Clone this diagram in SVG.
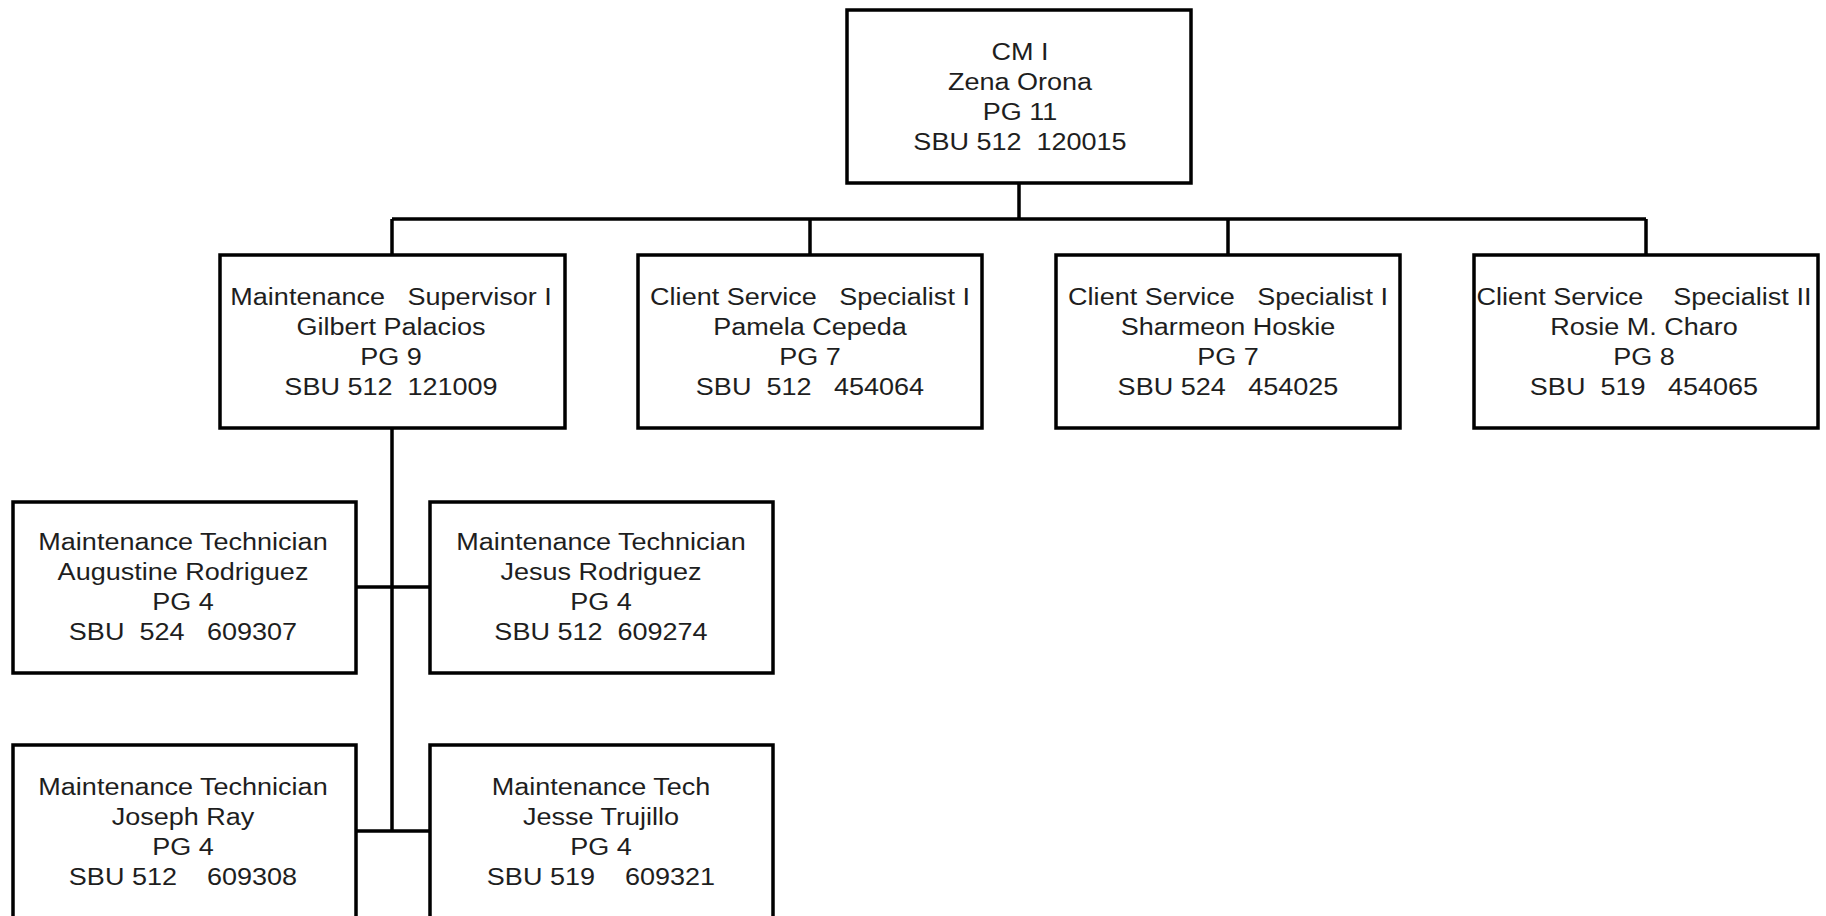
<svg xmlns="http://www.w3.org/2000/svg" width="1826" height="916" viewBox="0 0 1826 916">
<style>
.box{fill:#ffffff;stroke:#000000;stroke-width:3.5}
.conn{fill:none;stroke:#000000;stroke-width:3.5}
.t{font-family:"Liberation Sans",Arial,sans-serif;font-size:23.3px;fill:#1e1e1e;text-anchor:middle;white-space:pre}
</style>
<rect x="0" y="0" width="1826" height="916" fill="#ffffff"/>
<g id="connectors">
<path class="conn" d="M1019,183 V219 M392,219 H1646 M392,219 V255 M810,219 V255 M1228,219 V255 M1646,219 V255"/>
<path class="conn" d="M392,428 V831 M356,587 H430 M356,831 H430"/>
</g>
<g id="node-cm">
<rect class="box" x="847" y="10" width="344" height="173"/>
<text class="t" transform="translate(1020,60) scale(1.16,1)"><tspan x="0" y="0">CM I</tspan><tspan x="0" y="30">Zena Orona</tspan><tspan x="0" y="60">PG 11</tspan><tspan x="0" y="90">SBU 512  120015</tspan></text>
</g>
<g id="node-supervisor">
<rect class="box" x="220" y="255" width="345" height="173"/>
<text class="t" transform="translate(391,305) scale(1.16,1)"><tspan x="0" y="0">Maintenance   Supervisor I</tspan><tspan x="0" y="30">Gilbert Palacios</tspan><tspan x="0" y="60">PG 9</tspan><tspan x="0" y="90">SBU 512  121009</tspan></text>
</g>
<g id="node-cepeda">
<rect class="box" x="638" y="255" width="344" height="173"/>
<text class="t" transform="translate(810,305) scale(1.16,1)"><tspan x="0" y="0">Client Service   Specialist I</tspan><tspan x="0" y="30">Pamela Cepeda</tspan><tspan x="0" y="60">PG 7</tspan><tspan x="0" y="90">SBU  512   454064</tspan></text>
</g>
<g id="node-hoskie">
<rect class="box" x="1056" y="255" width="344" height="173"/>
<text class="t" transform="translate(1228,305) scale(1.16,1)"><tspan x="0" y="0">Client Service   Specialist I</tspan><tspan x="0" y="30">Sharmeon Hoskie</tspan><tspan x="0" y="60">PG 7</tspan><tspan x="0" y="90">SBU 524   454025</tspan></text>
</g>
<g id="node-charo">
<rect class="box" x="1474" y="255" width="344" height="173"/>
<text class="t" transform="translate(1644,305) scale(1.16,1)"><tspan x="0" y="0">Client Service    Specialist II</tspan><tspan x="0" y="30">Rosie M. Charo</tspan><tspan x="0" y="60">PG 8</tspan><tspan x="0" y="90">SBU  519   454065</tspan></text>
</g>
<g id="node-augustine">
<rect class="box" x="13" y="502" width="343" height="171"/>
<text class="t" transform="translate(183,550) scale(1.16,1)"><tspan x="0" y="0">Maintenance Technician</tspan><tspan x="0" y="30">Augustine Rodriguez</tspan><tspan x="0" y="60">PG 4</tspan><tspan x="0" y="90">SBU  524   609307</tspan></text>
</g>
<g id="node-jesus">
<rect class="box" x="430" y="502" width="343" height="171"/>
<text class="t" transform="translate(601,550) scale(1.16,1)"><tspan x="0" y="0">Maintenance Technician</tspan><tspan x="0" y="30">Jesus Rodriguez</tspan><tspan x="0" y="60">PG 4</tspan><tspan x="0" y="90">SBU 512  609274</tspan></text>
</g>
<g id="node-ray">
<rect class="box" x="13" y="745" width="343" height="190"/>
<text class="t" transform="translate(183,795) scale(1.16,1)"><tspan x="0" y="0">Maintenance Technician</tspan><tspan x="0" y="30">Joseph Ray</tspan><tspan x="0" y="60">PG 4</tspan><tspan x="0" y="90">SBU 512    609308</tspan></text>
</g>
<g id="node-trujillo">
<rect class="box" x="430" y="745" width="343" height="190"/>
<text class="t" transform="translate(601,795) scale(1.16,1)"><tspan x="0" y="0">Maintenance Tech</tspan><tspan x="0" y="30">Jesse Trujillo</tspan><tspan x="0" y="60">PG 4</tspan><tspan x="0" y="90">SBU 519    609321</tspan></text>
</g>
</svg>
